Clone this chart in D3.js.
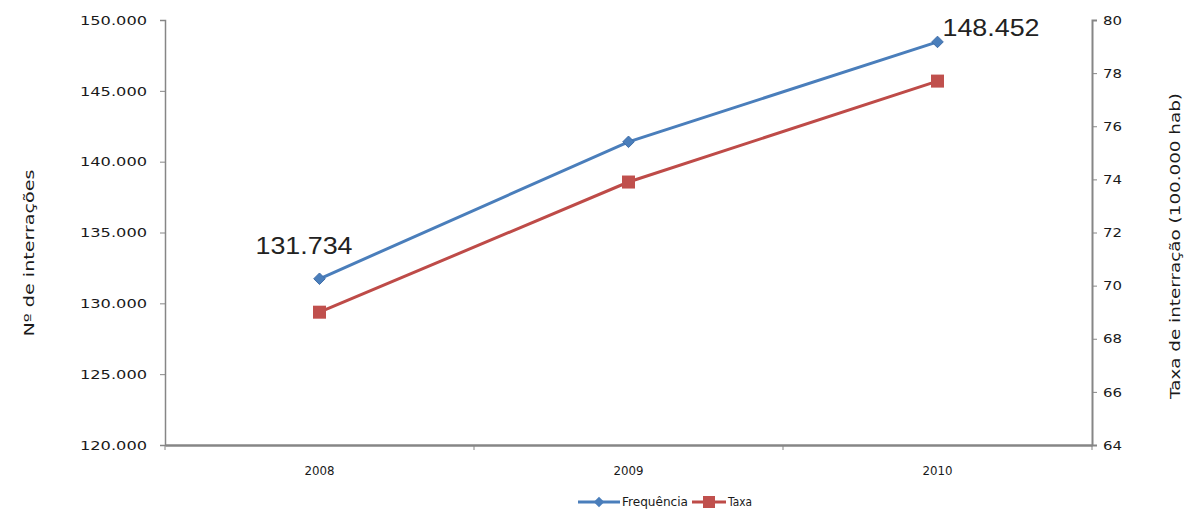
<!DOCTYPE html>
<html>
<head>
<meta charset="utf-8">
<script src="https://cdn.jsdelivr.net/npm/d3@7"></script>
<style>
  html, body { margin: 0; padding: 0; background: #fff; }
  svg { display: block; }
  .tick text, .small { font-family: "DejaVu Sans", Verdana, sans-serif; font-size: 12px; fill: #1a1a1a; }
</style>
</head>
<body>
<svg id="chart" width="1189" height="515"></svg>
<script>
// Hospital admissions, 2008–2010
const years = ["2008", "2009", "2010"];
const frequencia = [131734, 141400, 148452];     // Nº de interrações
const taxa = [69.0, 73.9, 77.7];                 // por 100.000 hab
const leftTicks = [120000, 125000, 130000, 135000, 140000, 145000, 150000];
const rightTicks = [64, 66, 68, 70, 72, 74, 76, 78, 80];
const seriesNames = ["Frequência", "Taxa"];
const labelled = [{ i: 0, text: "131.734" }, { i: 2, text: "148.452" }];

const blue = "#4A7EBB", red = "#BE4B48", axisGrey = "#868686";
const svg = d3.select("#chart");
const plot = { left: 165, right: 1092, top: 20, bottom: 445 };

const x = d3.scaleBand().domain(years).range([plot.left, plot.right]);
const yL = d3.scaleLinear().domain([120000, 150000]).range([plot.bottom, plot.top]);
const yR = d3.scaleLinear().domain([64, 80]).range([plot.bottom, plot.top]);
const cx = d => x(d) + x.bandwidth() / 2;

const fmtThousand = v => d3.format(",.0f")(v).replace(/,/g, ".");

// widen small labels horizontally
function stretch(sel, k) {
  sel.each(function () {
    const w = this.getComputedTextLength();
    d3.select(this).attr("textLength", w * k).attr("lengthAdjust", "spacingAndGlyphs");
  });
}
function fitTo(sel, w) {
  sel.attr("textLength", w).attr("lengthAdjust", "spacingAndGlyphs");
}

// left axis
const gL = svg.append("g").attr("transform", `translate(${plot.left},0)`)
  .call(d3.axisLeft(yL).tickValues(leftTicks).tickFormat(fmtThousand).tickSize(5).tickPadding(13));
gL.select(".domain").attr("stroke", axisGrey).attr("stroke-width", 1.5);
gL.selectAll(".tick line").attr("stroke", axisGrey);
gL.selectAll(".tick text").attr("dy", "0.35em").call(fitTo, 67);

// right axis
const gR = svg.append("g").attr("transform", `translate(${plot.right},0)`)
  .call(d3.axisRight(yR).tickValues(rightTicks).tickSize(5).tickPadding(6));
gR.select(".domain").attr("stroke", axisGrey).attr("stroke-width", 2);
gR.selectAll(".tick line").attr("stroke", axisGrey);
gR.selectAll(".tick text").attr("dy", "0.35em").call(fitTo, 19);

// bottom axis: ticks on category boundaries
const gX = svg.append("g").attr("transform", `translate(0,${plot.bottom})`)
  .call(d3.axisBottom(x).tickSize(0).tickPadding(21));
gX.select(".domain").attr("stroke", axisGrey).attr("stroke-width", 2.5);
gX.selectAll(".tick text").call(fitTo, 30);
const bounds = years.map(y => x(y)).concat([plot.right]);
svg.append("g").selectAll("line").data(bounds).join("line")
  .attr("x1", d => d).attr("x2", d => d)
  .attr("y1", plot.bottom).attr("y2", plot.bottom + 5)
  .attr("stroke", axisGrey).attr("stroke-width", 1);

// axis titles
svg.append("text").attr("class", "small")
  .attr("transform", `translate(34,253) rotate(-90)`)
  .attr("text-anchor", "middle").style("font-size", "14px")
  .call(fitTo, 167)
  .text("Nº de interrações");
svg.append("text").attr("class", "small")
  .attr("transform", `translate(1180,246) rotate(-90)`)
  .attr("text-anchor", "middle").style("font-size", "14px")
  .call(fitTo, 306)
  .text("Taxa de interração (100.000 hab)");

// series lines
const lineL = d3.line().x((d, i) => cx(years[i])).y(d => yL(d));
const lineR = d3.line().x((d, i) => cx(years[i])).y(d => yR(d));
svg.append("path").datum(frequencia).attr("d", lineL)
  .attr("fill", "none").attr("stroke", blue).attr("stroke-width", 3);
svg.append("path").datum(taxa).attr("d", lineR)
  .attr("fill", "none").attr("stroke", red).attr("stroke-width", 3);

// markers
const diamond = d3.symbol().type(d3.symbolDiamond2).size(85);
svg.append("g").selectAll("path").data(frequencia).join("path")
  .attr("transform", (d, i) => `translate(${cx(years[i])},${yL(d)})`)
  .attr("d", diamond).attr("fill", blue).attr("stroke", "#3E6DA8").attr("stroke-width", 1);
const sq = 13;
svg.append("g").selectAll("rect").data(taxa).join("rect")
  .attr("x", (d, i) => cx(years[i]) - sq / 2).attr("y", d => yR(d) - sq / 2)
  .attr("width", sq).attr("height", sq).attr("fill", "#C0504D");

// value labels
const lab = svg.append("g").style("font-family", "'Liberation Sans', Arial, sans-serif")
  .style("font-size", "24px").style("fill", "#222");
lab.append("text")
  .attr("x", cx(years[labelled[0].i]) + 33).attr("y", yL(frequencia[labelled[0].i]) - 25)
  .attr("text-anchor", "end").call(fitTo, 97)
  .text(labelled[0].text);
lab.append("text")
  .attr("x", cx(years[labelled[1].i]) + 5).attr("y", yL(frequencia[labelled[1].i]) - 6)
  .attr("text-anchor", "start").call(fitTo, 97)
  .text(labelled[1].text);

// legend
const leg = svg.append("g").attr("transform", "translate(0,502)");
const items = [
  { name: seriesNames[0], color: blue, x0: 578, len: 42, w: 66, mark: "diamond" },
  { name: seriesNames[1], color: red, x0: 692, len: 34, w: 24, mark: "square" }
];
items.forEach(it => {
  leg.append("line").attr("x1", it.x0).attr("x2", it.x0 + it.len).attr("y1", 0).attr("y2", 0)
    .attr("stroke", it.color).attr("stroke-width", 3);
  const mx = it.x0 + it.len / 2;
  if (it.mark === "diamond") {
    leg.append("path").attr("transform", `translate(${mx},0)`)
      .attr("d", d3.symbol().type(d3.symbolDiamond2).size(70)).attr("fill", it.color);
  } else {
    leg.append("rect").attr("x", mx - 6).attr("y", -6).attr("width", 12).attr("height", 12)
      .attr("fill", "#C0504D");
  }
  leg.append("text").attr("class", "small").attr("x", it.x0 + it.len + 2).attr("y", 0).attr("dy", "0.35em")
    .call(fitTo, it.w).text(it.name);
});
</script>
</body>
</html>
